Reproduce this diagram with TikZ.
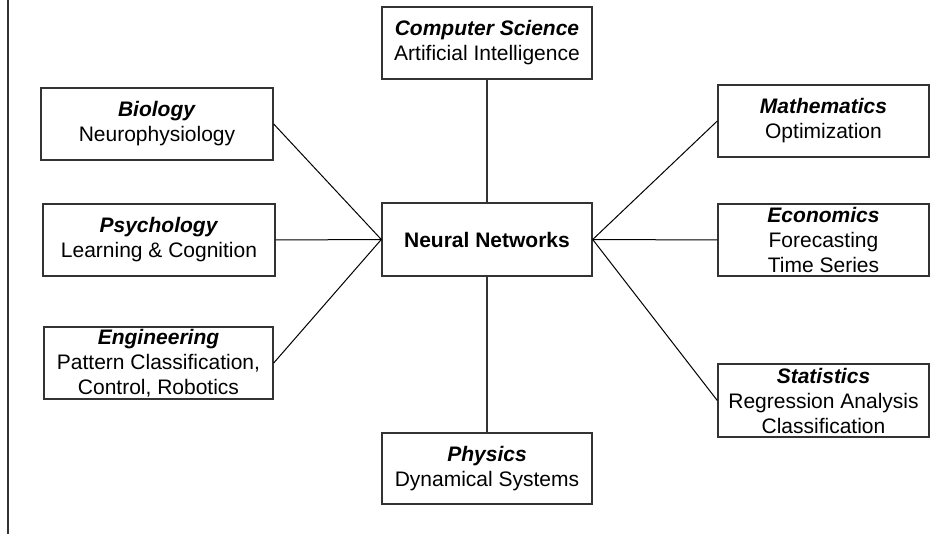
\documentclass[tikz,border=0pt]{standalone}
\usepackage{fontspec}
\setmainfont{Liberation Sans}
\definecolor{boxline}{HTML}{333333}
\begin{document}
\begin{tikzpicture}[x=1pt,y=-1pt,
  field/.style={draw=boxline,line width=1.4pt,align=center,inner sep=0pt,
    font=\fontsize{21}{25}\selectfont,fill=white},
  wire/.style={draw=black,line width=1pt},
  vwire/.style={draw=boxline,line width=1.6pt}]
\useasboundingbox (0,0) rectangle (951,534);
\draw[boxline,line width=1.6pt] (8,0) -- (8,534);
\node[field,minimum width=210pt,minimum height=72pt] (cs) at (487,43) {\textbf{\textit{Computer Science}}\\Artificial Intelligence};
\node[field,minimum width=210pt,minimum height=73pt,font=\fontsize{21}{25}\selectfont\bfseries] (nn) at (487,239.5) {Neural Networks};
\node[field,minimum width=232pt,minimum height=72pt] (bio) at (157,124) {\textbf{\textit{Biology}}\\Neurophysiology};
\node[field,minimum width=232pt,minimum height=72pt] (psy) at (159,240) {\textbf{\textit{Psychology}}\\Learning \& Cognition};
\node[field,minimum width=229pt,minimum height=72pt] (eng) at (158.5,363) {\textbf{\textit{Engineering}}\\Pattern Classification,\\Control, Robotics};
\node[field,minimum width=211pt,minimum height=72pt] (math) at (823.5,121) {\textbf{\textit{Mathematics}}\\Optimization};
\node[field,minimum width=211pt,minimum height=72pt] (eco) at (823.5,240) {\textbf{\textit{Economics}}\\Forecasting\\Time Series};
\node[field,minimum width=211pt,minimum height=73pt] (stat) at (823.5,400.5) {\textbf{\textit{Statistics}}\\Regression Analysis\\Classification};
\node[field,minimum width=210pt,minimum height=71pt] (phys) at (487,468.5) {\textbf{\textit{Physics}}\\Dynamical Systems};
\draw[vwire] (cs.south) -- (nn.north);
\draw[vwire] (phys.north) -- (nn.south);
\draw[wire] (bio.east) -- (nn.west);
\draw[wire] (psy.east) -- (nn.west);
\draw[wire] (eng.east) -- (nn.west);
\draw[wire] (math.west) -- (nn.east);
\draw[wire] (eco.west) -- (nn.east);
\draw[wire] (stat.west) -- (nn.east);
\end{tikzpicture}
\end{document}
